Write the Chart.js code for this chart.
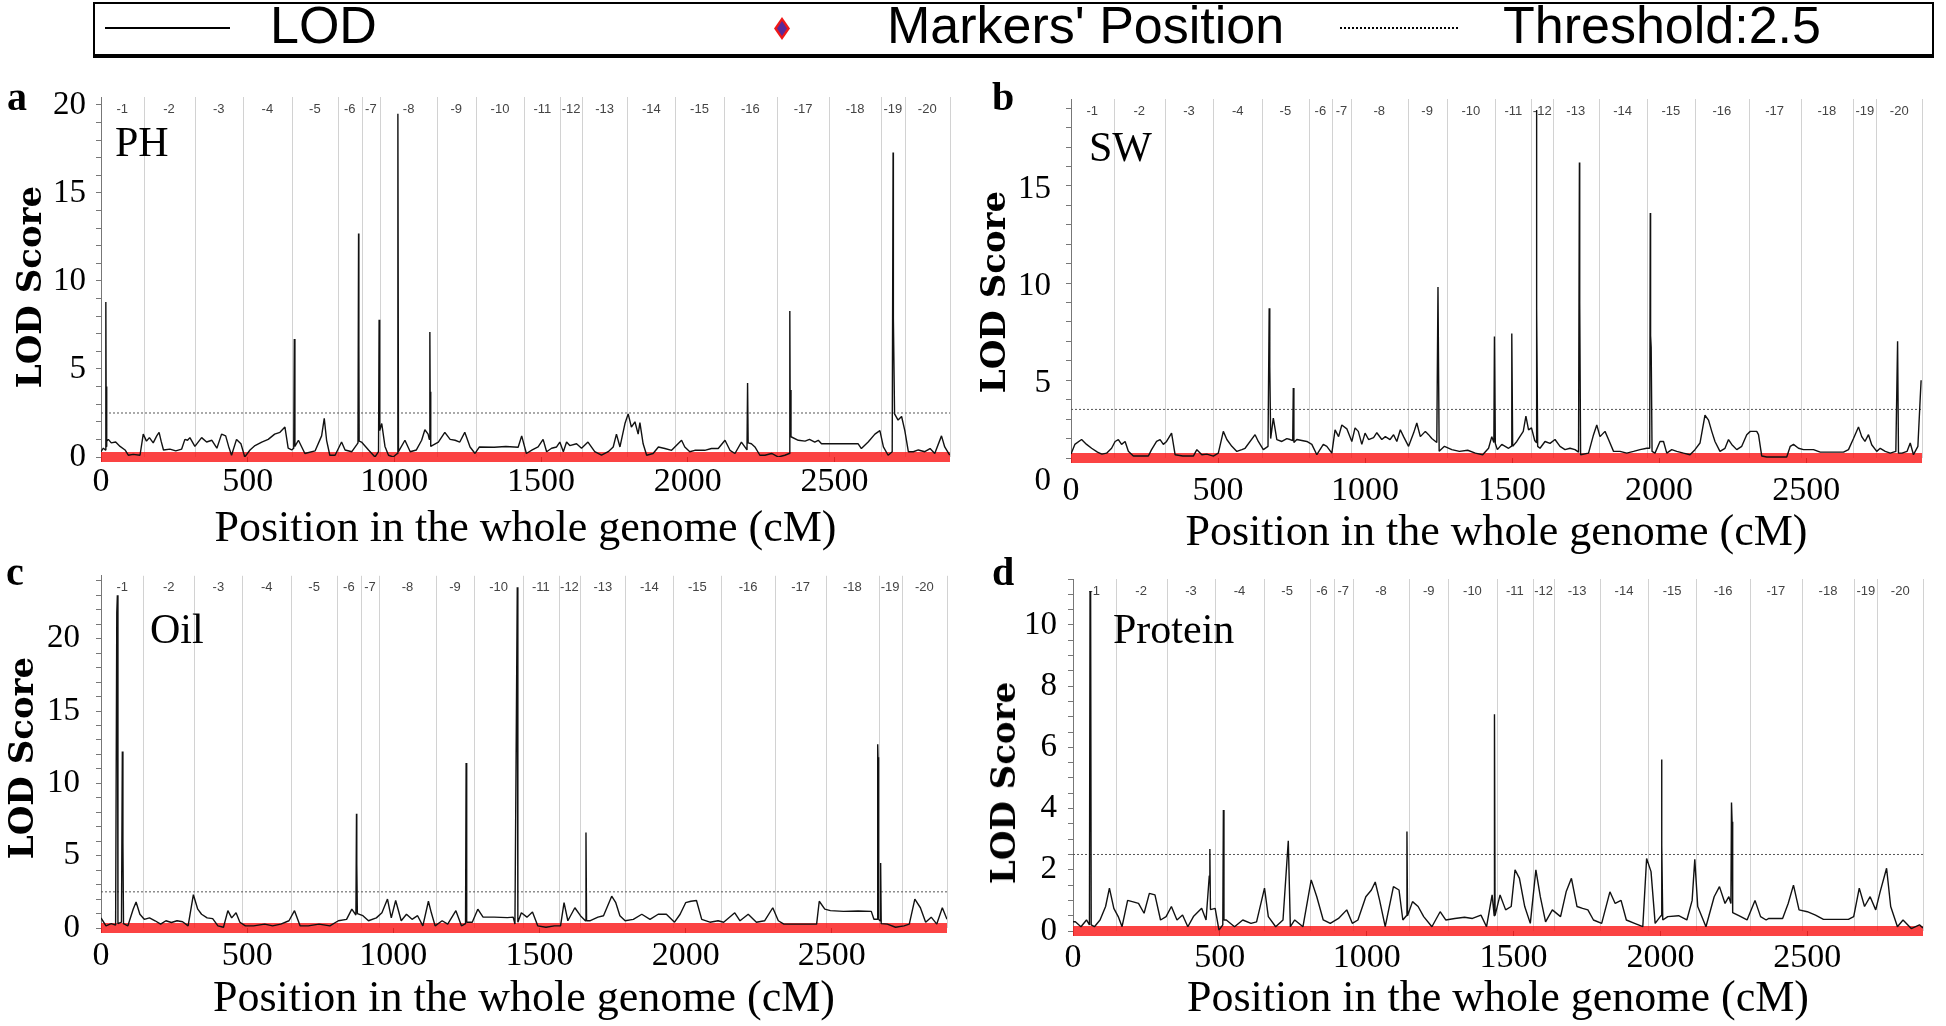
<!DOCTYPE html>
<html>
<head>
<meta charset="utf-8">
<script src="https://cdn.jsdelivr.net/npm/chart.js@4.4.1/dist/chart.umd.min.js"></script>
<style>
html, body { margin: 0; padding: 0; background: #fff; }
body { width: 1946px; height: 1026px; position: relative; overflow: hidden; }
canvas { position: absolute; }
.txt { position: absolute; white-space: nowrap; line-height: 1; color: #000; }
.letter { font: bold 40px "Liberation Serif", serif; }
.trait { font: 42px "Liberation Serif", serif; }
.ytitle { position: absolute; font: bold 34px "DejaVu Serif", serif; white-space: nowrap; line-height: 1;
          transform: translate(-50%, -50%) rotate(-90deg); }
#legend { position: absolute; left: 93px; top: 2px; width: 1837px; height: 50px;
          border: 2px solid #000; border-bottom-width: 4px; }
.leg { position: absolute; top: -1px; font: 52px "Liberation Sans", Arial, sans-serif; line-height: 1; white-space: nowrap; }
</style>
</head>
<body>
<div id="legend"></div>
<div style="position:absolute;left:105px;top:27px;width:125px;height:2px;background:#000"></div>
<div class="leg" style="left:270px">LOD</div>
<div style="position:absolute;left:774px;top:17px;width:16px;height:23px;background:#f01818;clip-path:polygon(50% 0,100% 50%,50% 100%,0 50%)">
  <div style="position:absolute;left:3px;top:4px;width:10px;height:15px;background:#5a2a9a;clip-path:polygon(50% 0,100% 50%,50% 100%,0 50%)"></div>
</div>
<div class="leg" style="left:887px">Markers' Position</div>
<div style="position:absolute;left:1340px;top:27px;width:118px;height:0;border-top:2px dotted #000"></div>
<div class="leg" style="left:1503px">Threshold:2.5</div>

<canvas id="ca" width="970" height="505" style="left:0;top:60px"></canvas>
<canvas id="cb" width="976" height="510" style="left:970px;top:60px"></canvas>
<canvas id="cc" width="970" height="486" style="left:0;top:540px"></canvas>
<canvas id="cd" width="976" height="486" style="left:970px;top:540px"></canvas>

<div class="txt letter" style="left:7px;top:73px">a</div>
<div class="txt letter" style="left:992px;top:73px">b</div>
<div class="txt letter" style="left:6px;top:548px">c</div>
<div class="txt letter" style="left:992px;top:548px">d</div>
<div class="txt trait" style="left:115px;top:118px">PH</div>
<div class="txt trait" style="left:1089px;top:123px">SW</div>
<div class="txt trait" style="left:150px;top:605px">Oil</div>
<div class="txt trait" style="left:1113px;top:605px">Protein</div>
<div class="ytitle" style="left:29px;top:287px">LOD Score</div>
<div class="ytitle" style="left:993px;top:292px">LOD Score</div>
<div class="ytitle" style="left:21px;top:758px">LOD Score</div>
<div class="ytitle" style="left:1003px;top:783px">LOD Score</div>

<script>
// chromosome ends along the whole genome (cM) and their labels
const chromEnds = [145, 319, 484, 650, 808, 888, 952, 1145, 1277, 1443, 1566, 1639, 1794, 1958, 2122, 2305, 2481, 2660, 2739, 2894];
const chromLabels = ['-1','-2','-3','-4','-5','-6','-7','-8','-9','-10','-11','-12','-13','-14','-15','-16','-17','-18','-19','-20'];
const genomeEnd = 2894;
const threshold = 2.5;
const markerSpan = [0, 2894];
const xTicks = [0, 500, 1000, 1500, 2000, 2500];

const phTicks = [0, 5, 10, 15, 20];
const swTicks = [0, 5, 10, 15];
const oilTicks = [0, 5, 10, 15, 20];
const protTicks = [0, 2, 4, 6, 8, 10];

// [position cM, LOD]
const phCurve = [[0,0.3],[8,0.5],[15,0.4],[16,0.5],[17,8.8],[18,0.6],[19,4.0],[20,0.9],[25,1.0],[35,0.8],[50,0.85],[65,0.6],[82,0.4],[93,0.1],[110,0.15],[133,0.1],[144,1.3],[155,0.9],[165,1.1],[178,0.8],[190,1.2],[198,1.4],[205,0.9],[213,0.4],[235,0.45],[255,0.35],[275,0.45],[286,1.0],[295,0.95],[303,1.1],[320,0.6],[343,1.1],[360,0.85],[378,0.95],[395,0.5],[411,1.3],[425,1.2],[435,0.6],[445,0.1],[462,1.0],[477,0.75],[490,0.0],[508,0.4],[525,0.65],[548,0.85],[570,1.0],[592,1.3],[610,1.4],[627,1.7],[638,0.5],[650,0.4],[657,0.5],[659,6.7],[661,0.6],[673,0.95],[695,0.2],[730,0.35],[752,1.2],[761,2.2],[769,0.95],[780,0.1],[798,0.1],[820,0.85],[832,0.4],[855,0.3],[872,0.7],[876,0.8],[878,12.7],[879,6.4],[880,0.9],[888,0.85],[912,0.4],[934,0.0],[946,0.3],[948,7.8],[950,1.5],[957,1.9],[968,0.6],[980,0.1],[996,0.0],[1010,0.2],[1012,19.5],[1014,0.3],[1036,0.95],[1054,0.3],[1075,0.4],[1093,0.95],[1104,1.55],[1115,1.3],[1119,1.0],[1121,7.1],[1122,3.7],[1124,0.6],[1150,0.85],[1172,1.4],[1190,1.0],[1207,0.95],[1223,0.85],[1240,1.4],[1258,0.57],[1275,0.2],[1290,0.57],[1340,0.55],[1380,0.6],[1422,0.55],[1434,1.2],[1450,0.2],[1470,0.4],[1490,0.57],[1507,1.0],[1519,0.3],[1536,0.5],[1553,0.57],[1564,0.85],[1576,0.3],[1587,0.85],[1598,0.65],[1621,0.75],[1638,0.5],[1660,0.85],[1683,0.3],[1706,0.1],[1729,0.3],[1746,0.57],[1757,1.3],[1769,0.57],[1786,1.9],[1797,2.45],[1808,1.7],[1820,2.0],[1831,1.3],[1837,1.95],[1848,0.75],[1860,0.1],[1882,0.2],[1900,0.57],[1922,0.48],[1945,0.38],[1967,0.75],[1979,0.95],[1990,0.57],[2007,0.3],[2024,0.38],[2058,0.38],[2081,0.48],[2104,0.48],[2127,0.95],[2144,0.38],[2161,0.2],[2183,0.85],[2202,0.4],[2204,4.2],[2206,0.8],[2217,0.75],[2229,0.57],[2246,0.1],[2263,0.1],[2286,0.2],[2309,0.0],[2331,0.1],[2346,0.2],[2348,8.3],[2349,3.8],[2352,1.15],[2377,0.95],[2400,0.9],[2415,1.0],[2433,0.85],[2445,0.95],[2456,0.75],[2490,0.75],[2530,0.75],[2581,0.75],[2592,0.48],[2615,0.85],[2638,1.3],[2655,1.5],[2667,0.57],[2683,0.1],[2697,0.3],[2700,17.3],[2701,7.9],[2705,2.45],[2717,2.1],[2729,2.3],[2740,1.5],[2752,0.3],[2769,0.3],[2786,0.4],[2808,0.3],[2826,0.48],[2842,0.2],[2865,1.2],[2876,0.57],[2893,0.1]];

const swCurve = [[0,0.2],[13,0.7],[36,0.95],[53,0.7],[70,0.5],[90,0.3],[105,0.2],[121,0.25],[138,0.5],[150,0.85],[161,0.95],[172,0.7],[184,0.85],[195,0.35],[212,0.1],[240,0.1],[263,0.1],[274,0.43],[291,0.85],[303,0.95],[314,0.7],[325,0.85],[342,1.28],[354,0.17],[380,0.1],[416,0.1],[428,0.43],[445,0.17],[462,0.2],[484,0.1],[501,0.25],[518,1.37],[530,0.95],[547,0.6],[564,0.34],[581,0.43],[592,0.5],[626,1.2],[637,0.85],[654,0.43],[670,0.6],[674,7.7],[676,4.7],[679,1.0],[688,2.05],[700,0.95],[717,0.85],[734,1.0],[745,0.95],[754,0.9],[756,3.6],[758,0.8],[768,0.95],[802,0.85],[819,0.7],[836,0.17],[858,0.7],[870,0.6],[887,0.25],[898,1.45],[910,1.1],[921,1.7],[938,1.5],[955,0.85],[966,1.55],[977,1.37],[989,0.7],[1000,1.28],[1012,0.95],[1029,1.05],[1040,1.3],[1057,0.95],[1069,1.1],[1085,0.95],[1097,1.2],[1108,0.85],[1120,1.45],[1131,1.1],[1148,0.6],[1165,1.28],[1176,1.8],[1188,1.1],[1205,1.37],[1216,1.2],[1227,1.0],[1244,0.8],[1248,8.8],[1252,0.35],[1270,0.6],[1295,0.43],[1321,0.34],[1349,0.4],[1375,0.25],[1400,0.17],[1420,0.5],[1431,1.1],[1438,0.8],[1440,6.25],[1443,0.75],[1450,0.43],[1465,0.7],[1488,0.5],[1497,0.6],[1499,6.4],[1502,0.6],[1516,0.85],[1538,1.37],[1547,2.15],[1556,1.45],[1566,1.55],[1577,0.9],[1582,0.8],[1583,17.9],[1584,7.7],[1587,0.6],[1595,0.5],[1612,0.85],[1629,0.75],[1646,0.95],[1663,0.6],[1680,0.43],[1697,0.5],[1714,0.43],[1726,0.3],[1729,15.2],[1730,8.0],[1733,0.17],[1760,0.25],[1777,1.2],[1788,1.7],[1799,1.1],[1816,1.37],[1828,0.95],[1845,0.34],[1867,0.34],[1890,0.25],[1913,0.34],[1935,0.43],[1958,0.5],[1968,0.5],[1970,12.6],[1971,6.3],[1973,5.7],[1976,0.34],[1986,0.25],[2003,0.85],[2015,0.85],[2026,0.25],[2043,0.43],[2060,0.34],[2083,0.25],[2105,0.17],[2122,0.43],[2139,0.77],[2156,2.2],[2168,1.95],[2179,1.37],[2190,0.85],[2207,0.34],[2224,0.5],[2236,0.95],[2247,0.7],[2264,0.43],[2281,0.6],[2298,1.2],[2310,1.37],[2332,1.37],[2338,1.2],[2349,0.1],[2366,0.05],[2434,0.05],[2446,0.6],[2457,0.7],[2474,0.5],[2491,0.43],[2525,0.43],[2548,0.3],[2627,0.3],[2644,0.43],[2661,1.0],[2678,1.6],[2689,1.1],[2700,0.85],[2712,1.2],[2723,0.68],[2740,0.34],[2752,0.5],[2769,0.34],[2786,0.25],[2805,0.34],[2811,6.0],[2814,0.25],[2826,0.25],[2843,0.34],[2854,0.77],[2865,0.17],[2880,0.6],[2888,3.1],[2891,4.0]];

const oilCurve = [[0,0.7],[17,0.15],[35,0.3],[50,0.2],[54,21.8],[56,23.0],[58,0.3],[70,0.4],[73,12.2],[75,5.9],[77,0.3],[92,0.15],[110,1.3],[120,1.8],[133,0.95],[148,0.6],[166,0.7],[185,0.5],[204,0.27],[222,0.5],[241,0.38],[260,0.5],[279,0.43],[298,0.15],[316,2.3],[331,1.3],[344,0.95],[363,0.7],[382,0.65],[400,0.15],[419,0.05],[434,1.2],[447,0.7],[462,1.05],[475,0.4],[494,0.15],[522,0.15],[560,0.27],[587,0.15],[615,0.27],[643,0.5],[662,1.2],[681,0.15],[709,0.15],[746,0.27],[783,0.15],[812,0.5],[840,0.6],[858,1.3],[872,0.9],[874,7.9],[875,4.4],[877,1.0],[896,0.85],[915,0.5],[942,0.7],[961,1.05],[980,2.0],[993,0.7],[1008,1.9],[1027,0.5],[1045,0.95],[1064,0.6],[1083,0.85],[1101,0.15],[1120,1.85],[1130,1.05],[1143,0.15],[1167,0.5],[1186,0.27],[1214,1.2],[1233,0.15],[1247,0.3],[1249,11.4],[1250,5.85],[1252,0.4],[1270,0.4],[1289,1.3],[1307,0.75],[1345,0.75],[1390,0.72],[1410,0.75],[1416,0.27],[1424,23.55],[1426,0.4],[1438,1.05],[1457,0.75],[1476,1.1],[1494,0.15],[1522,0.05],[1551,0.15],[1572,0.15],[1584,1.75],[1597,0.5],[1621,1.4],[1640,0.85],[1657,0.5],[1659,6.6],[1661,0.5],[1672,0.5],[1700,0.75],[1719,0.85],[1747,2.2],[1761,1.75],[1775,0.85],[1793,0.5],[1821,0.6],[1850,0.95],[1878,0.6],[1906,0.95],[1934,0.95],[1962,0.4],[1981,0.95],[2000,1.75],[2018,1.85],[2037,1.9],[2055,0.6],[2083,0.4],[2111,0.5],[2130,0.4],[2168,1.05],[2186,0.5],[2214,0.95],[2242,0.4],[2270,0.5],[2298,1.4],[2317,0.5],[2336,0.27],[2373,0.27],[2448,0.27],[2457,1.85],[2476,1.3],[2495,1.2],[2540,1.15],[2590,1.18],[2635,1.15],[2644,0.6],[2655,0.6],[2657,12.7],[2658,11.8],[2660,0.6],[2665,0.5],[2667,4.5],[2669,0.3],[2690,0.27],[2718,0.05],[2747,0.15],[2765,0.27],[2784,2.0],[2803,1.4],[2821,0.4],[2840,0.75],[2859,0.27],[2878,1.4],[2894,0.6]];

const protCurve = [[0,0.3],[8,0.3],[27,0.14],[46,0.36],[56,0.2],[58,11.1],[60,10.9],[62,0.2],[73,0.14],[92,0.36],[111,0.8],[124,1.4],[139,0.74],[154,0.47],[167,0.14],[186,1.0],[205,0.95],[223,0.9],[242,0.58],[260,1.23],[279,1.18],[298,0.36],[317,0.47],[335,0.8],[354,0.36],[373,0.52],[391,0.14],[410,0.47],[438,0.74],[453,0.36],[464,1.8],[466,2.68],[468,0.7],[484,0.74],[497,0.03],[510,0.2],[512,3.95],[514,0.36],[522,0.36],[550,0.14],[578,0.36],[606,0.25],[625,0.3],[652,1.4],[665,0.47],[690,0.14],[715,0.36],[733,2.95],[740,0.14],[755,0.36],[783,0.14],[811,1.67],[830,1.12],[852,0.36],[876,0.25],[904,0.41],[932,0.69],[951,0.25],[970,0.36],[997,1.12],[1016,1.34],[1029,1.6],[1044,1.0],[1063,0.14],[1091,1.45],[1110,1.34],[1123,0.36],[1135,0.5],[1137,3.25],[1139,0.5],[1156,0.96],[1175,0.8],[1194,0.47],[1222,0.14],[1250,0.63],[1269,0.36],[1300,0.41],[1333,0.45],[1360,0.41],[1389,0.52],[1408,0.14],[1427,1.18],[1434,0.5],[1435,7.08],[1437,0.5],[1454,1.18],[1473,0.69],[1492,0.8],[1505,2.0],[1520,1.72],[1538,0.8],[1557,0.25],[1576,2.0],[1591,1.12],[1609,0.3],[1632,0.69],[1660,0.47],[1679,1.28],[1697,1.72],[1716,0.8],[1735,0.74],[1753,0.69],[1772,0.36],[1800,0.25],[1828,1.28],[1846,0.9],[1866,1.0],[1884,0.36],[1912,0.25],[1940,0.14],[1953,2.37],[1968,1.94],[1982,0.25],[2002,0.5],[2004,5.6],[2005,2.8],[2008,0.36],[2025,0.47],[2062,0.5],[2090,0.36],[2108,1.0],[2117,2.34],[2127,0.8],[2155,0.14],[2183,1.12],[2201,1.45],[2220,0.9],[2233,1.12],[2240,0.9],[2242,4.2],[2244,3.57],[2246,0.6],[2267,0.5],[2295,0.36],[2322,1.0],[2341,0.47],[2360,0.36],[2369,0.41],[2416,0.41],[2435,0.9],[2453,1.5],[2472,0.69],[2500,0.63],[2528,0.52],[2555,0.38],[2640,0.38],[2658,0.47],[2677,1.4],[2695,0.8],[2714,1.12],[2733,0.69],[2748,1.28],[2770,2.05],[2784,0.8],[2807,0.14],[2826,0.36],[2854,0.08],[2882,0.2],[2894,0.1]];

const serif = '"Liberation Serif", "Times New Roman", serif';

// grey chromosome separators and their labels along the top of the plot
const chromPlugin = {
    id: 'chromLines',
    beforeDatasetsDraw(chart) {
        const { ctx, chartArea, scales } = chart;
        const x = scales.x;
        ctx.save();
        ctx.lineWidth = 1;
        ctx.font = '13px "Liberation Sans", Arial, sans-serif';
        ctx.textAlign = 'center';
        ctx.textBaseline = 'middle';
        let start = 0;
        chromEnds.forEach((end, i) => {
            const px = Math.round(x.getPixelForValue(end)) + 0.5;
            ctx.strokeStyle = '#d2d2d2';
            ctx.beginPath();
            ctx.moveTo(px, chartArea.top);
            ctx.lineTo(px, chartArea.bottom);
            ctx.stroke();
            ctx.fillStyle = '#444';
            ctx.fillText(chromLabels[i], x.getPixelForValue((start + end) / 2), chartArea.top + 12);
            start = end;
        });
        ctx.restore();
    }
};

function makePanel(p) {
    const yVals = [];
    for (let i = 0; i * p.yStep <= p.yMax + 1e-9; i++) yVals.push(+(i * p.yStep).toFixed(2));

    return new Chart(document.getElementById(p.id), {
        type: 'line',
        data: {
            datasets: [
                {
                    label: 'LOD',
                    data: p.curve.map(([x, y]) => ({ x, y })),
                    borderColor: '#111',
                    borderWidth: 1.4,
                    borderJoinStyle: 'bevel',
                    pointRadius: 0,
                    tension: 0
                },
                {
                    label: 'Threshold:2.5',
                    data: [{ x: 0, y: threshold }, { x: genomeEnd, y: threshold }],
                    borderColor: '#555',
                    borderWidth: 1,
                    borderDash: [2, 2],
                    pointRadius: 0
                },
                {
                    label: "Markers' Position",
                    data: markerSpan.map(x => ({ x, y: 0 })),
                    borderColor: 'rgba(250, 20, 20, 0.8)',
                    borderWidth: 10,
                    pointRadius: 0,
                    clip: false
                }
            ]
        },
        options: {
            responsive: false,
            animation: false,
            layout: { padding: { left: 0, top: p.padTop, right: p.padRight, bottom: 0 } },
            plugins: { legend: { display: false }, tooltip: { enabled: false } },
            scales: {
                x: {
                    type: 'linear',
                    min: 0,
                    max: genomeEnd,
                    afterBuildTicks: s => { s.ticks = xTicks.map(v => ({ value: v })); },
                    afterFit: s => { s.height = p.xHeight; },
                    ticks: {
                        autoSkip: false,
                        maxRotation: 0,
                        padding: p.xTickPad,
                        color: '#000',
                        font: { family: serif, size: 34 },
                        callback: v => String(v)
                    },
                    grid: { drawOnChartArea: false, tickLength: 5, tickColor: '#666' },
                    border: { display: false },
                    title: {
                        display: true,
                        text: 'Position in the whole genome (cM)',
                        color: '#000',
                        font: { family: serif, size: 44 },
                        padding: { top: 0, bottom: p.xTitlePad }
                    }
                },
                y: {
                    type: 'linear',
                    min: 0,
                    max: p.yMax,
                    afterBuildTicks: s => { s.ticks = yVals.map(v => ({ value: v })); },
                    afterFit: s => { s.width = p.yWidth; },
                    ticks: {
                        autoSkip: false,
                        padding: p.yTickPad,
                        labelOffset: p.yLabelOffset,
                        color: '#000',
                        font: { family: serif, size: 33 },
                        callback: v => p.yMajor.includes(v) ? String(v) : ''
                    },
                    grid: { drawOnChartArea: false, tickLength: 5, tickColor: '#777' },
                    border: { display: true, color: '#777', width: 1 }
                }
            }
        },
        plugins: [chromPlugin]
    });
}

makePanel({ id: 'ca', curve: phCurve, yMax: 20.45, yStep: 1, yMajor: phTicks, yWidth: 101, yTickPad: 10, yLabelOffset: 0,
            padTop: 37, padRight: 20, xHeight: 108, xTickPad: 0, xTitlePad: 9 });
makePanel({ id: 'cb', curve: swCurve, yMax: 18.47, yStep: 1, yMajor: swTicks, yWidth: 101, yTickPad: 15, yLabelOffset: 23,
            padTop: 39, padRight: 24, xHeight: 112, xTickPad: 8, xTitlePad: 10 });
makePanel({ id: 'cc', curve: oilCurve, yMax: 24.35, yStep: 1, yMajor: oilTicks, yWidth: 101, yTickPad: 16, yLabelOffset: 0,
            padTop: 30, padRight: 23, xHeight: 98, xTickPad: 3, xTitlePad: 0 });
makePanel({ id: 'cd', curve: protCurve, yMax: 11.5, yStep: 0.5, yMajor: protTicks, yWidth: 103, yTickPad: 11, yLabelOffset: 0,
            padTop: 39, padRight: 23, xHeight: 95, xTickPad: 2, xTitlePad: 0 });
</script>
</body>
</html>
